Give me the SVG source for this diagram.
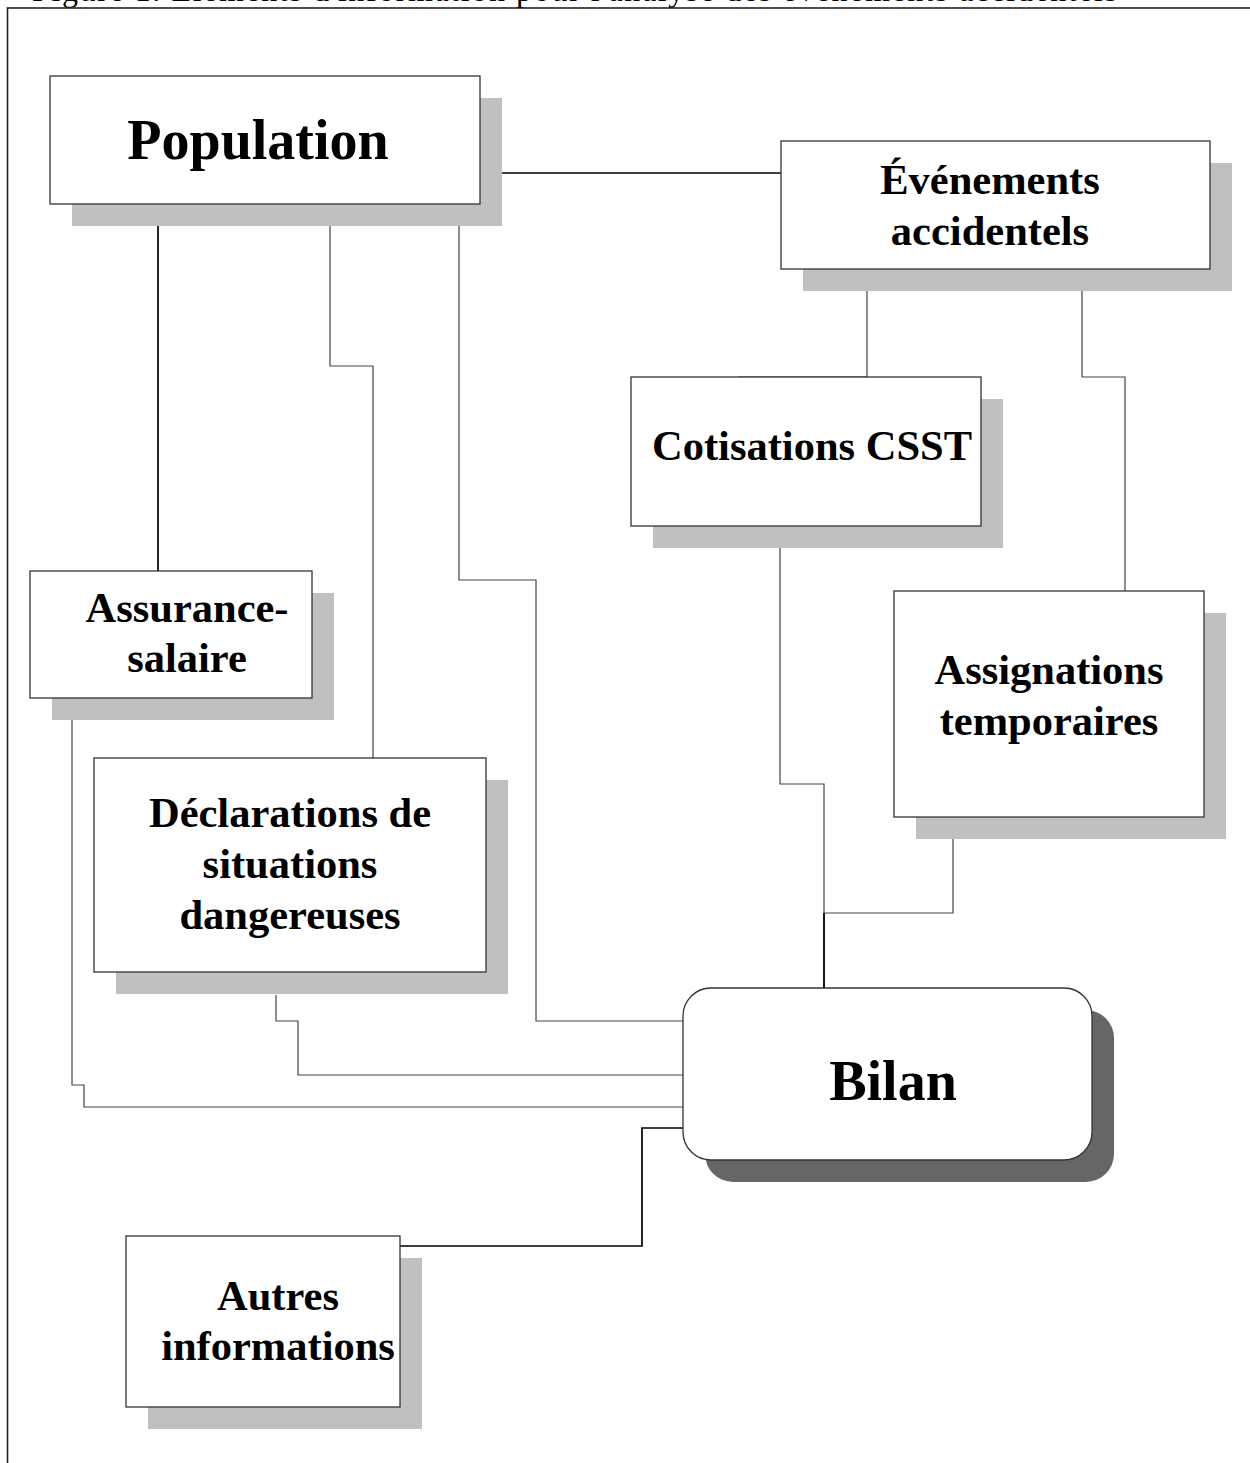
<svg xmlns="http://www.w3.org/2000/svg" width="1250" height="1463" viewBox="0 0 1250 1463">
<style>
  .frame { fill: none; stroke: #222; stroke-width: 1.6; }
  .shadow { fill: #c0c0c0; }
  .shadow-dark { fill: #666666; }
  .box { fill: #ffffff; stroke: #333; stroke-width: 1.3; }
  .lbl { font-family: "Liberation Serif", "Times New Roman", serif; font-weight: bold; font-size: 42.5px; fill: #000; text-anchor: middle; }
  .big { font-size: 56px; }
  .cap { font-family: "Liberation Serif", "Times New Roman", serif; font-size: 32px; fill: #000; }
  .conn { fill: none; stroke: #444; stroke-width: 1.2; }
  .conn-b { fill: none; stroke: #000; stroke-width: 1.7; }
</style>
<rect x="0" y="0" width="1250" height="1463" fill="#ffffff"/>
<text class="cap" x="32" y="1" textLength="1085" lengthAdjust="spacing">Figure 1. Éléments d'information pour l'analyse des événements accidentels</text>
<rect class="frame" x="7.5" y="8" width="1300" height="1500"/>

<g id="connectors">
  <path class="conn-b" d="M502,173 H781"/>
  <path class="conn-b" d="M158,226 V571"/>
  <path class="conn" d="M330,226 V366 H373 V758"/>
  <path class="conn" d="M459,226 V580 H536 V1021 H683"/>
  <path class="conn" d="M867,291 V377 H738"/>
  <path class="conn" d="M1082,291 V377 H1125 V591"/>
  <path class="conn" d="M780,548 V784 H824 V988"/>
  <path class="conn" d="M953,839 V913 H824"/>
  <path class="conn-b" d="M824,913 V988"/>
  <path class="conn" d="M72,720 V1085 H84 V1107 H683"/>
  <path class="conn" d="M276,995 V1021 H298 V1075 H683"/>
  <path class="conn-b" d="M400,1246 H642 V1128 H683"/>
</g>

<g id="population">
  <rect class="shadow" x="72" y="98" width="430" height="128"/>
  <rect class="box" x="50" y="76" width="430" height="128"/>
  <text class="lbl big" x="258" y="159">Population</text>
</g>

<g id="evenements">
  <rect class="shadow" x="803" y="163" width="429" height="128"/>
  <rect class="box" x="781" y="141" width="429" height="128"/>
  <text class="lbl" x="990" y="194">Événements</text>
  <text class="lbl" x="990" y="245">accidentels</text>
</g>

<g id="cotisations">
  <rect class="shadow" x="653" y="399" width="350" height="149"/>
  <rect class="box" x="631" y="377" width="350" height="149"/>
  <text class="lbl" x="812" y="460">Cotisations CSST</text>
</g>

<g id="assignations">
  <rect class="shadow" x="916" y="613" width="310" height="226"/>
  <rect class="box" x="894" y="591" width="310" height="226"/>
  <text class="lbl" x="1049" y="684">Assignations</text>
  <text class="lbl" x="1049" y="735">temporaires</text>
</g>

<g id="assurance">
  <rect class="shadow" x="52" y="593" width="282" height="127"/>
  <rect class="box" x="30" y="571" width="282" height="127"/>
  <text class="lbl" x="187" y="622">Assurance-</text>
  <text class="lbl" x="187" y="672">salaire</text>
</g>

<g id="declarations">
  <rect class="shadow" x="116" y="780" width="392" height="214"/>
  <rect class="box" x="94" y="758" width="392" height="214"/>
  <text class="lbl" x="290" y="827">Déclarations de</text>
  <text class="lbl" x="290" y="878">situations</text>
  <text class="lbl" x="290" y="929">dangereuses</text>
</g>

<g id="autres">
  <rect class="shadow" x="148" y="1258" width="274" height="171"/>
  <rect class="box" x="126" y="1236" width="274" height="171"/>
  <text class="lbl" x="278" y="1310">Autres</text>
  <text class="lbl" x="278" y="1360">informations</text>
</g>

<g id="bilan">
  <rect class="shadow-dark" x="705" y="1010" width="409" height="172" rx="28" ry="28"/>
  <rect class="box" x="683" y="988" width="409" height="172" rx="28" ry="28"/>
  <text class="lbl big" x="893" y="1100">Bilan</text>
</g>
</svg>
